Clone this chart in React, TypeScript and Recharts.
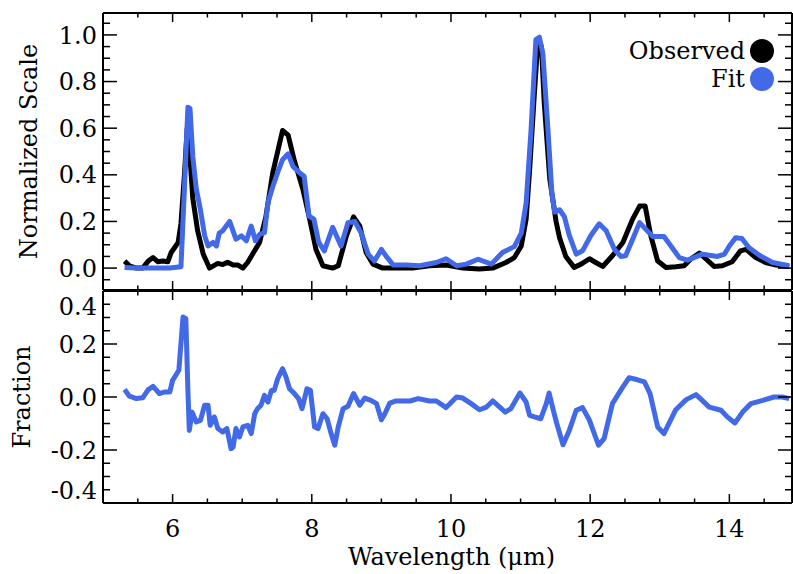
import React from 'react';
import { LineChart, Line, XAxis, YAxis } from 'recharts';

// observed spectrum (black)
const obsWave = [5.31, 5.38, 5.48, 5.57, 5.65, 5.72, 5.79, 5.86, 5.93, 5.98, 6.03, 6.08, 6.12, 6.17, 6.21, 6.24, 6.29, 6.36, 6.44, 6.53, 6.65, 6.72, 6.79, 6.87, 6.94, 7.01, 7.08, 7.15, 7.25, 7.34, 7.44, 7.58, 7.66, 7.75, 7.87, 7.97, 8.06, 8.16, 8.3, 8.38, 8.5, 8.6, 8.69, 8.78, 8.88, 9.02, 9.21, 9.45, 9.69, 9.93, 10.17, 10.41, 10.6, 10.79, 10.91, 11.01, 11.08, 11.13, 11.19, 11.25, 11.3, 11.34, 11.42, 11.51, 11.56, 11.65, 11.77, 11.87, 11.99, 12.08, 12.18, 12.32, 12.47, 12.61, 12.71, 12.79, 12.87, 12.97, 13.09, 13.23, 13.35, 13.45, 13.57, 13.66, 13.78, 13.9, 14.04, 14.16, 14.24, 14.38, 14.52, 14.67, 14.86];
const obsFlux = [0.03, 0.01, 0.0, 0.0, 0.03, 0.045, 0.027, 0.03, 0.027, 0.067, 0.088, 0.11, 0.19, 0.4, 0.6, 0.52, 0.3, 0.16, 0.06, 0.0, 0.02, 0.015, 0.025, 0.013, 0.013, 0.0, 0.025, 0.06, 0.11, 0.22, 0.41, 0.59, 0.57, 0.46, 0.34, 0.21, 0.08, 0.01, 0.0, 0.01, 0.14, 0.22, 0.18, 0.067, 0.017, 0.0, 0.0, 0.0, 0.01, 0.013, 0.0, -0.004, 0.0, 0.024, 0.045, 0.095, 0.21, 0.42, 0.71, 0.98, 0.95, 0.71, 0.38, 0.2, 0.13, 0.05, 0.003, 0.017, 0.04, 0.024, 0.007, 0.053, 0.11, 0.21, 0.266, 0.266, 0.14, 0.03, 0.003, 0.006, 0.01, 0.04, 0.064, 0.04, 0.007, 0.01, 0.027, 0.074, 0.08, 0.045, 0.024, 0.013, 0.007];

// model fit (blue)
const fitWave = [5.31, 5.48, 5.72, 5.96, 6.12, 6.17, 6.22, 6.25, 6.29, 6.34, 6.4, 6.46, 6.51, 6.58, 6.63, 6.67, 6.72, 6.77, 6.82, 6.86, 6.91, 6.99, 7.06, 7.13, 7.19, 7.25, 7.32, 7.37, 7.44, 7.51, 7.58, 7.66, 7.73, 7.82, 7.89, 7.96, 8.03, 8.1, 8.18, 8.3, 8.42, 8.52, 8.62, 8.71, 8.81, 8.9, 9.0, 9.07, 9.17, 9.36, 9.55, 9.79, 9.93, 10.08, 10.22, 10.39, 10.58, 10.74, 10.91, 11.01, 11.08, 11.15, 11.22, 11.27, 11.32, 11.39, 11.45, 11.49, 11.56, 11.63, 11.7, 11.8, 11.89, 12.01, 12.13, 12.23, 12.35, 12.44, 12.51, 12.61, 12.71, 12.8, 12.9, 13.06, 13.16, 13.28, 13.4, 13.49, 13.61, 13.71, 13.83, 13.93, 14.0, 14.09, 14.18, 14.28, 14.43, 14.62, 14.86];
const fitFlux = [0.003, 0.0, 0.0, 0.0, 0.006, 0.34, 0.69, 0.685, 0.48, 0.34, 0.25, 0.14, 0.095, 0.11, 0.095, 0.15, 0.16, 0.18, 0.2, 0.166, 0.124, 0.138, 0.117, 0.18, 0.117, 0.145, 0.152, 0.28, 0.35, 0.41, 0.465, 0.49, 0.436, 0.41, 0.394, 0.223, 0.21, 0.11, 0.074, 0.175, 0.095, 0.195, 0.2, 0.15, 0.06, 0.03, 0.08, 0.05, 0.013, 0.013, 0.01, 0.024, 0.04, 0.01, 0.017, 0.038, 0.017, 0.067, 0.092, 0.15, 0.28, 0.59, 0.98, 0.99, 0.92, 0.61, 0.32, 0.24, 0.25, 0.22, 0.14, 0.06, 0.074, 0.14, 0.19, 0.16, 0.08, 0.05, 0.053, 0.124, 0.195, 0.166, 0.135, 0.135, 0.095, 0.045, 0.034, 0.045, 0.06, 0.055, 0.05, 0.06, 0.095, 0.13, 0.127, 0.088, 0.055, 0.024, 0.01];

// fractional residual (lower panel)
const resWave = [5.31, 5.38, 5.48, 5.57, 5.65, 5.72, 5.81, 5.89, 5.96, 6.0, 6.09, 6.15, 6.19, 6.22, 6.24, 6.28, 6.34, 6.4, 6.46, 6.51, 6.54, 6.6, 6.65, 6.72, 6.78, 6.84, 6.87, 6.91, 6.96, 7.01, 7.08, 7.13, 7.18, 7.22, 7.27, 7.32, 7.37, 7.42, 7.46, 7.51, 7.58, 7.63, 7.68, 7.75, 7.81, 7.86, 7.93, 7.98, 8.04, 8.09, 8.16, 8.22, 8.28, 8.33, 8.38, 8.45, 8.52, 8.6, 8.69, 8.76, 8.85, 8.93, 9.0, 9.05, 9.12, 9.21, 9.41, 9.53, 9.69, 9.79, 9.93, 10.08, 10.17, 10.29, 10.41, 10.51, 10.6, 10.7, 10.78, 10.86, 10.99, 11.08, 11.13, 11.2, 11.29, 11.37, 11.41, 11.47, 11.52, 11.61, 11.7, 11.8, 11.89, 11.99, 12.12, 12.2, 12.32, 12.47, 12.56, 12.68, 12.78, 12.86, 12.97, 13.06, 13.23, 13.38, 13.52, 13.61, 13.71, 13.88, 13.97, 14.08, 14.19, 14.31, 14.48, 14.64, 14.76, 14.86];
const resFrac = [0.028, 0.003, -0.006, -0.003, 0.028, 0.04, 0.013, 0.019, 0.019, 0.063, 0.101, 0.302, 0.296, 0.025, -0.126, -0.057, -0.094, -0.088, -0.031, -0.031, -0.107, -0.075, -0.119, -0.132, -0.119, -0.195, -0.189, -0.119, -0.151, -0.113, -0.107, -0.138, -0.063, -0.044, -0.031, 0.006, -0.019, 0.025, 0.025, 0.069, 0.107, 0.075, 0.031, 0.013, -0.006, -0.044, 0.031, 0.025, -0.113, -0.119, -0.063, -0.082, -0.14, -0.182, -0.113, -0.044, -0.035, 0.013, -0.031, -0.004, -0.013, -0.025, -0.086, -0.063, -0.023, -0.015, -0.015, -0.006, -0.015, -0.015, -0.04, 0.0, -0.004, -0.025, -0.048, -0.038, -0.015, -0.038, -0.057, -0.044, 0.015, -0.019, -0.069, -0.075, -0.082, -0.025, 0.015, -0.05, -0.1, -0.18, -0.126, -0.05, -0.04, -0.088, -0.182, -0.157, -0.025, 0.038, 0.073, 0.065, 0.057, 0.013, -0.113, -0.138, -0.048, -0.01, 0.009, -0.013, -0.038, -0.05, -0.075, -0.098, -0.057, -0.025, -0.013, 0.0, 0.0, -0.006];

// axis ticks
const xMajor = [6, 8, 10, 12, 14];
const xLabels = ['6', '8', '10', '12', '14'];
const topMajor = [0, 0.2, 0.4, 0.6, 0.8, 1.0];
const topLabels = ['0.0', '0.2', '0.4', '0.6', '0.8', '1.0'];
const botMajor = [-0.4, -0.2, 0, 0.2, 0.4];
const botLabels = ['-0.4', '-0.2', '0.0', '0.2', '0.4'];

const steps = (from: number, to: number, step: number) => {
  const out: number[] = [];
  for (let v = from; v <= to + 1e-9; v += step) out.push(Math.round(v * 1000) / 1000);
  return out;
};
const xTicks = steps(5.5, 14.5, 0.5);
const topTicks = steps(-0.05, 1.05, 0.05);
const botTicks = steps(-0.4, 0.4, 0.05);

const obsData = obsWave.map((w, i) => ({ w, v: obsFlux[i] }));
const fitData = fitWave.map((w, i) => ({ w, v: fitFlux[i] }));
const resData = resWave.map((w, i) => ({ w, v: resFrac[i] }));

const FONT = '"DejaVu Serif", serif';
const BLUE = '#4169E8';
const X_DOMAIN = [5, 14.9];
const TOP_DOMAIN = [-0.094, 1.094];
const BOT_DOMAIN = [-0.4, 0.4];
const idx = (arr: number[], v: number) => arr.findIndex((m) => Math.abs(m - v) < 1e-6);

// x ticks: dir -1 = pointing up, +1 = pointing down
const XTick = ({ x, y, payload, dir, showLabel }: any) => {
  const i = idx(xMajor, payload.value);
  const len = i >= 0 ? 9 : 4.5;
  return (
    <g>
      <line x1={x} y1={y} x2={x} y2={y + dir * len} stroke="#000" strokeWidth={1.5} />
      {showLabel && i >= 0 && (
        <text x={x} y={y + 34} textAnchor="middle" fontFamily={FONT} fontSize={24} fill="#000">
          {xLabels[i]}
        </text>
      )}
    </g>
  );
};

// y ticks: dir +1 = pointing right (left axis), -1 = pointing left (right axis)
const YTick = ({ x, y, payload, dir, major, labels, showLabel }: any) => {
  const i = idx(major, payload.value);
  const len = i >= 0 ? 14 : 7;
  let dy = 0;
  if (major === botMajor && payload.value > 0.39) dy = 15;
  if (major === botMajor && payload.value < -0.39) dy = -13;
  return (
    <g>
      <line x1={x} y1={y} x2={x + dir * len} y2={y} stroke="#000" strokeWidth={1.5} />
      {showLabel && i >= 0 && (
        <text x={x - 6} y={y + dy} dy="0.36em" textAnchor="end" fontFamily={FONT} fontSize={24} fill="#000">
          {labels[i]}
        </text>
      )}
    </g>
  );
};

const axisLine = { stroke: '#000', strokeWidth: 2 };

const series = [
  { name: 'Observed', color: '#000' },
  { name: 'Fit', color: BLUE },
];

const LegendBox = () => (
  <div style={{ position: 'absolute', top: 37, right: 19, fontFamily: FONT, fontSize: 24, lineHeight: '28px', color: '#000' }}>
    {series.map((s) => (
      <div key={s.name} style={{ display: 'flex', justifyContent: 'flex-end', alignItems: 'center', height: 28 }}>
        <span>{s.name}</span>
        <span style={{ display: 'inline-block', width: 24, height: 24, borderRadius: 12, background: s.color, marginLeft: 5 }} />
      </div>
    ))}
  </div>
);

// frame axes (top x / right y) carry a hidden series so they are drawn
const frameAxes = (yDomain: number[], yTicks: number[], major: number[], labels: string[]) => [
  <XAxis
    key="xt"
    xAxisId="top"
    orientation="top"
    type="number"
    dataKey="w"
    domain={X_DOMAIN}
    allowDataOverflow
    ticks={xTicks}
    interval={0}
    height={1}
    tickSize={0}
    tickMargin={0}
    tickLine={false}
    axisLine={axisLine}
    tick={(p: any) => <XTick {...p} dir={1} />}
  />,
  <YAxis
    key="yr"
    yAxisId="right"
    orientation="right"
    type="number"
    domain={yDomain}
    allowDataOverflow
    ticks={yTicks}
    interval={0}
    width={1}
    tickSize={0}
    tickMargin={0}
    tickLine={false}
    axisLine={axisLine}
    tick={(p: any) => <YTick {...p} dir={-1} major={major} labels={labels} />}
  />,
];

const App: React.FC = () => {
  return (
    <div style={{ position: 'absolute', left: 0, top: 0, width: 793, height: 574, background: '#fff', overflow: 'hidden' }}>
      {/* upper panel */}
      <div style={{ position: 'absolute', left: 0, top: 0 }}>
        <LineChart width={793} height={291} margin={{ top: 12, right: 0, bottom: 0, left: 0 }}>
          <XAxis
            type="number"
            dataKey="w"
            domain={X_DOMAIN}
            allowDataOverflow
            ticks={xTicks}
            interval={0}
            height={1}
            tickSize={0}
            tickMargin={0}
            tickLine={false}
            axisLine={axisLine}
            tick={(p: any) => <XTick {...p} dir={-1} />}
          />
          <YAxis
            type="number"
            domain={TOP_DOMAIN}
            allowDataOverflow
            ticks={topTicks}
            interval={0}
            width={103}
            tickSize={0}
            tickMargin={0}
            tickLine={false}
            axisLine={axisLine}
            tick={(p: any) => <YTick {...p} dir={1} major={topMajor} labels={topLabels} showLabel />}
            label={({ viewBox }: any) => (
              <text
                x={viewBox.x + 37}
                y={viewBox.y + viewBox.height / 2}
                transform={`rotate(-90, ${viewBox.x + 37}, ${viewBox.y + viewBox.height / 2})`}
                textAnchor="middle"
                fontFamily={FONT}
                fontSize={24}
                fill="#000"
              >
                Normalized Scale
              </text>
            )}
          />
          {frameAxes(TOP_DOMAIN, topTicks, topMajor, topLabels)}
          <Line data={obsData} dataKey="v" xAxisId="top" yAxisId="right" stroke="none" dot={false} isAnimationActive={false} />
          <Line data={obsData} dataKey="v" type="linear" stroke="#000" strokeWidth={5} strokeLinejoin="round" dot={false} isAnimationActive={false} />
          <Line data={fitData} dataKey="v" type="linear" stroke={BLUE} strokeWidth={5} strokeLinejoin="round" dot={false} isAnimationActive={false} />
        </LineChart>
      </div>

      {/* lower panel: fractional residual */}
      <div style={{ position: 'absolute', left: 0, top: 291 }}>
        <LineChart width={793} height={283} margin={{ top: -1, right: 0, bottom: 0, left: 0 }}>
          <XAxis
            type="number"
            dataKey="w"
            domain={X_DOMAIN}
            allowDataOverflow
            ticks={xTicks}
            interval={0}
            height={71}
            tickSize={0}
            tickMargin={0}
            tickLine={false}
            axisLine={axisLine}
            tick={(p: any) => <XTick {...p} dir={-1} showLabel />}
            label={({ viewBox }: any) => (
              <text x={viewBox.x + viewBox.width / 2 + 4} y={viewBox.y + 62} textAnchor="middle" fontFamily={FONT} fontSize={24} fill="#000">
                Wavelength (μm)
              </text>
            )}
          />
          <YAxis
            type="number"
            domain={BOT_DOMAIN}
            allowDataOverflow
            ticks={botTicks}
            interval={0}
            width={103}
            tickSize={0}
            tickMargin={0}
            tickLine={false}
            axisLine={axisLine}
            tick={(p: any) => <YTick {...p} dir={1} major={botMajor} labels={botLabels} showLabel />}
            label={({ viewBox }: any) => (
              <text
                x={viewBox.x + 30}
                y={viewBox.y + viewBox.height / 2}
                transform={`rotate(-90, ${viewBox.x + 30}, ${viewBox.y + viewBox.height / 2})`}
                textAnchor="middle"
                fontFamily={FONT}
                fontSize={24}
                fill="#000"
              >
                Fraction
              </text>
            )}
          />
          {frameAxes(BOT_DOMAIN, botTicks, botMajor, botLabels)}
          <Line data={resData} dataKey="v" xAxisId="top" yAxisId="right" stroke="none" dot={false} isAnimationActive={false} />
          <Line data={resData} dataKey="v" type="linear" stroke={BLUE} strokeWidth={5} strokeLinejoin="round" dot={false} isAnimationActive={false} />
        </LineChart>
      </div>

      <LegendBox />
    </div>
  );
};

export default App;
